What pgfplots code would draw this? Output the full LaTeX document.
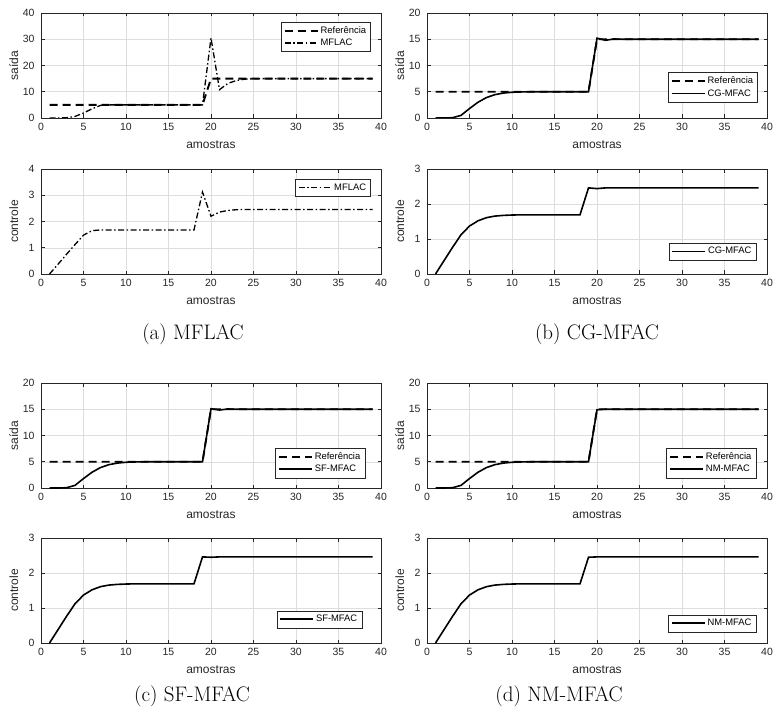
\documentclass[border=0pt]{standalone}
\usepackage{fontspec}
\usepackage{pgfplots}
\usepackage{pgfplotstable}
\pgfplotsset{compat=1.18}
\newfontfamily\arialfont{Liberation Sans}

\pgfplotstableread{
k ref yA uA yB uB yC uC yD uD
1 5 0 0 0 0 0 0 0 0
2 5 0 0.37 0 0.38 0 0.38 0 0.38
3 5 0.1 0.75 0.05 0.76 0.05 0.76 0.05 0.76
4 5 0.6 1.12 0.5 1.12 0.5 1.12 0.5 1.12
5 5 1.9 1.48 1.8 1.37 1.8 1.37 1.8 1.37
6 5 3.5 1.65 3.0 1.52 3.0 1.52 3.0 1.52
7 5 4.8 1.68 3.9 1.61 3.9 1.61 3.9 1.61
8 5 5.0 1.68 4.45 1.655 4.45 1.655 4.45 1.655
9 5 5.0 1.68 4.75 1.675 4.75 1.675 4.75 1.675
10 5 5.0 1.68 4.9 1.685 4.9 1.685 4.9 1.685
11 5 5.0 1.68 4.96 1.69 4.96 1.69 4.96 1.69
12 5 5.0 1.68 4.99 1.69 4.99 1.69 4.99 1.69
13 5 5.0 1.68 5 1.69 5 1.69 5 1.69
14 5 5.0 1.68 5 1.69 5 1.69 5 1.69
15 5 5.0 1.68 5 1.69 5 1.69 5 1.69
16 5 5.0 1.68 5 1.69 5 1.69 5 1.69
17 5 5.0 1.68 5 1.69 5 1.69 5 1.69
18 5 5.0 1.68 5 1.69 5 1.69 5 1.69
19 5 5.0 3.12 5 2.46 5 2.46 5 2.45
20 15 30.5 2.2 15.2 2.44 15.1 2.45 14.9 2.46
21 15 10.8 2.36 14.8 2.46 14.85 2.46 15 2.46
22 15 13.2 2.42 15.05 2.46 15.05 2.46 15 2.46
23 15 14.3 2.45 15 2.46 15 2.46 15 2.46
24 15 14.8 2.46 15 2.46 15 2.46 15 2.46
25 15 14.95 2.46 15 2.46 15 2.46 15 2.46
26 15 15 2.46 15 2.46 15 2.46 15 2.46
27 15 15 2.46 15 2.46 15 2.46 15 2.46
28 15 15 2.46 15 2.46 15 2.46 15 2.46
29 15 15 2.46 15 2.46 15 2.46 15 2.46
30 15 15 2.46 15 2.46 15 2.46 15 2.46
31 15 15 2.46 15 2.46 15 2.46 15 2.46
32 15 15 2.46 15 2.46 15 2.46 15 2.46
33 15 15 2.46 15 2.46 15 2.46 15 2.46
34 15 15 2.46 15 2.46 15 2.46 15 2.46
35 15 15 2.46 15 2.46 15 2.46 15 2.46
36 15 15 2.46 15 2.46 15 2.46 15 2.46
37 15 15 2.46 15 2.46 15 2.46 15 2.46
38 15 15 2.46 15 2.46 15 2.46 15 2.46
39 15 15 2.46 15 2.46 15 2.46 15 2.46
}\data

\definecolor{axgray}{gray}{0.15}
\pgfplotsset{
  mat/.style={
    scale only axis, width=340pt, height=105pt,
    xmin=0, xmax=40, xtick={0,5,...,40},
    grid=major, grid style={draw=black!13, line width=0.5pt},
    axis line style={draw=axgray, line width=0.6pt},
    tick style={draw=axgray, line width=0.6pt},
    major tick length=3.5pt, tick align=inside,
    /pgf/number format/assume math mode=true,
    tick label style={font=\arialfont\fontsize{10.5}{12}\selectfont, text=axgray},
    xticklabel style={yshift=-2pt},
    yticklabel style={xshift=-3pt},
    xlabel={amostras},
    every axis x label/.style={at={(axis description cs:0.5,-0.255)}, anchor=center,
      font=\arialfont\fontsize{12}{14}\selectfont, text=axgray},
    every axis y label/.style={at={(axis description cs:-0.08,0.5)}, anchor=center, rotate=90,
      font=\arialfont\fontsize{12}{14}\selectfont, text=axgray},
    legend style={font=\arialfont\fontsize{9.4}{11}\selectfont, draw=axgray, fill=white,
      inner sep=2.5pt, row sep=0pt, cells={anchor=west}},
    legend image code/.code={\draw[##1] (0pt,0pt) -- (33pt,0pt);},
  },
  refline/.style={black, line width=1.9pt, dash pattern=on 8pt off 5pt},
  solline/.style={black, line width=1.6pt},
  ddline/.style={black, line width=1.3pt, dash pattern=on 6pt off 2.5pt on 1.5pt off 2.5pt},
}

\begin{document}
\begin{tikzpicture}
\useasboundingbox (0,0) rectangle (773pt,-714pt);

% (a) top
\begin{axis}[mat, at={(41pt,-13pt)}, anchor=north west, ymin=0, ymax=40, ytick={0,10,...,40},
  ylabel={saída}, legend style={at={(axis description cs:0.97,0.914)}, anchor=north east}]
\addplot[refline] table[x=k,y=ref]{\data};
\addplot[ddline] table[x=k,y=yA]{\data};
\legend{Referência,MFLAC}
\end{axis}
% (a) bottom
\begin{axis}[mat, at={(41pt,-169pt)}, anchor=north west, ymin=0, ymax=4, ytick={0,1,...,4},
  ylabel={controle}, legend style={at={(axis description cs:0.97,0.905)}, anchor=north east}]
\addplot[ddline] table[x=k,y=uA]{\data};
\legend{MFLAC}
\end{axis}

% (b) top
\begin{axis}[mat, at={(427pt,-13pt)}, anchor=north west, ymin=0, ymax=20, ytick={0,5,...,20},
  ylabel={saída}, legend style={at={(axis description cs:0.973,0.15)}, anchor=south east}]
\addplot[refline] table[x=k,y=ref]{\data};
\addplot[solline] table[x=k,y=yB]{\data};
\legend{Referência,CG-MFAC}
\end{axis}
% (b) bottom
\begin{axis}[mat, at={(427pt,-169pt)}, anchor=north west, ymin=0, ymax=3, ytick={0,1,...,3},
  ylabel={controle}, legend style={at={(axis description cs:0.968,0.133)}, anchor=south east}]
\addplot[solline] table[x=k,y=uB]{\data};
\legend{CG-MFAC}
\end{axis}

% (c) top
\begin{axis}[mat, at={(41pt,-383pt)}, anchor=north west, ymin=0, ymax=20, ytick={0,5,...,20},
  ylabel={saída}, legend style={at={(axis description cs:0.953,0.095)}, anchor=south east}]
\addplot[refline] table[x=k,y=ref]{\data};
\addplot[solline] table[x=k,y=yC]{\data};
\legend{Referência,SF-MFAC}
\end{axis}
% (c) bottom
\begin{axis}[mat, at={(41pt,-538pt)}, anchor=north west, ymin=0, ymax=3, ytick={0,1,...,3},
  ylabel={controle}, legend style={at={(axis description cs:0.944,0.143)}, anchor=south east}]
\addplot[solline] table[x=k,y=uC]{\data};
\legend{SF-MFAC}
\end{axis}

% (d) top
\begin{axis}[mat, at={(427pt,-383pt)}, anchor=north west, ymin=0, ymax=20, ytick={0,5,...,20},
  ylabel={saída}, legend style={at={(axis description cs:0.968,0.095)}, anchor=south east}]
\addplot[refline] table[x=k,y=ref]{\data};
\addplot[solline] table[x=k,y=yD]{\data};
\legend{Referência,NM-MFAC}
\end{axis}
% (d) bottom
\begin{axis}[mat, at={(427pt,-538pt)}, anchor=north west, ymin=0, ymax=3, ytick={0,1,...,3},
  ylabel={controle}, legend style={at={(axis description cs:0.968,0.105)}, anchor=south east}]
\addplot[solline] table[x=k,y=uD]{\data};
\legend{NM-MFAC}
\end{axis}

% captions
\node[font=\fontsize{21}{24}\selectfont] at (193pt,-334pt) {(a) MFLAC};
\node[font=\fontsize{21}{24}\selectfont] at (597pt,-334pt) {(b) CG-MFAC};
\node[font=\fontsize{21}{24}\selectfont] at (192pt,-696pt) {(c) SF-MFAC};
\node[font=\fontsize{21}{24}\selectfont] at (559pt,-696pt) {(d) NM-MFAC};
\end{tikzpicture}
\end{document}
